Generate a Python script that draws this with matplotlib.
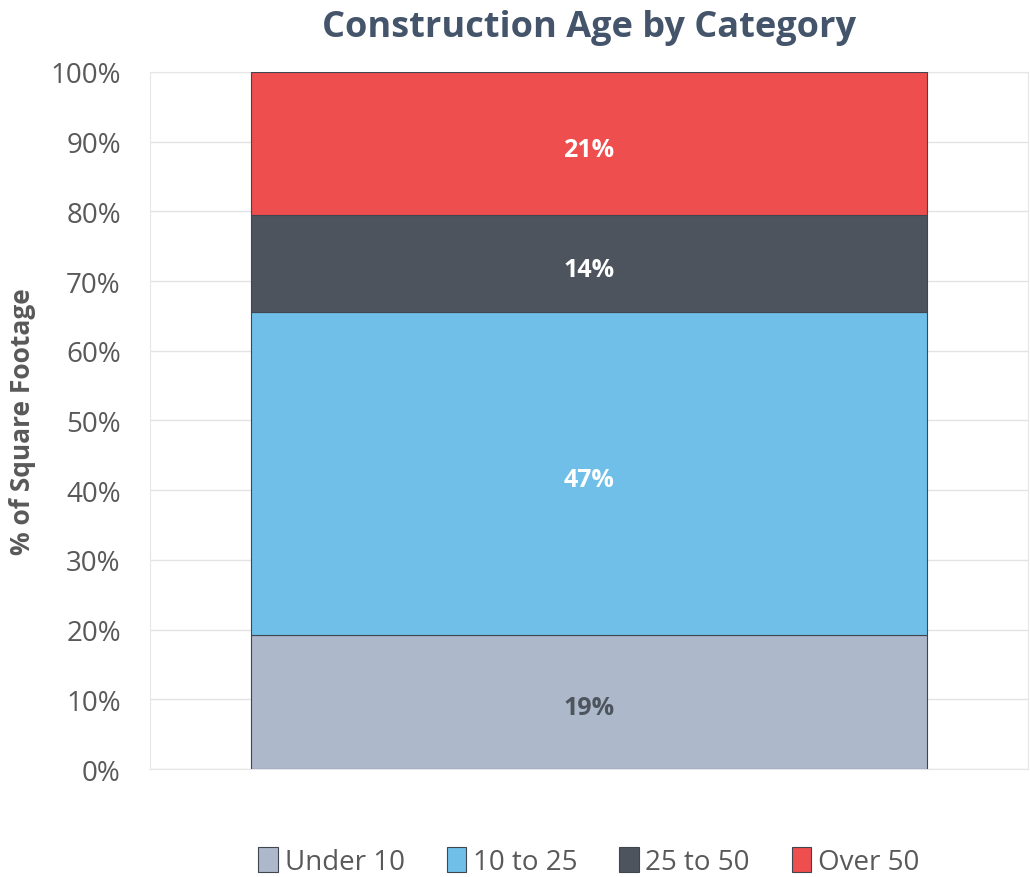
import matplotlib.pyplot as plt
from matplotlib.ticker import PercentFormatter
import numpy as np

plt.rcParams['font.family'] = ['Open Sans', 'DejaVu Sans']

categories = ['Under 10', '10 to 25', '25 to 50', 'Over 50']
values = [19.2, 46.4, 13.9, 20.5]
labels = ['19%', '47%', '14%', '21%']
colors = ['#ADB9CA', '#6FBFE8', '#4D545E', '#EE4E4E']
text_colors = ['#4D545E', 'white', 'white', 'white']

fig = plt.figure(figsize=(10.3, 8.78), dpi=100)
ax = fig.add_axes([0.1456, 0.123, 0.8524, 0.794])

bottom = 0
for cat, v, lab, c, tc in zip(categories, values, labels, colors, text_colors):
    ax.bar(0, v, width=0.77, bottom=bottom, color=c, edgecolor='#3F4650',
           linewidth=0.8, label=cat, zorder=3)
    ax.text(0, bottom + v / 2 - 0.4, lab, ha='center', va='center_baseline',
            color=tc, fontsize=18, fontweight='bold', zorder=4)
    bottom += v

ax.set_xlim(-0.5, 0.5)
ax.set_ylim(0, 100)
ax.set_yticks(np.arange(0, 101, 10))
ax.yaxis.set_major_formatter(PercentFormatter(decimals=0))
ax.set_xticks([])
ax.tick_params(axis='y', length=0, labelsize=20, labelcolor='#595959', pad=21)
ax.grid(axis='y', color='#E3E3E3', linewidth=1, zorder=0)
for s in ax.spines.values():
    s.set_color('#E6E6E6')

ax.set_ylabel('% of Square Footage', fontsize=19, fontweight='bold',
              color='#595959', labelpad=10)
ax.set_title('Construction Age by Category', fontsize=26, fontweight='bold',
             color='#44546A', pad=26)

leg = ax.legend(loc='upper center', bbox_to_anchor=(0.5, -0.092), ncol=4,
                frameon=False, fontsize=20, handlelength=0.7, handleheight=1.0,
                handletextpad=0.25, columnspacing=1.5, borderpad=0)
for t in leg.get_texts():
    t.set_color('#595959')

fig.savefig('out.png', dpi=100)
